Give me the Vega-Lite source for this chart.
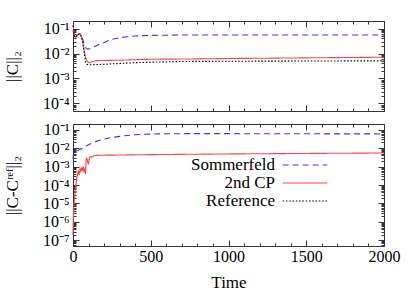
{
  "$schema": "https://vega.github.io/schema/vega-lite/v6.json",
  "padding": {"left": 2, "top": 20, "right": 5, "bottom": 5},
  "config": {
    "font": "Liberation Serif",
    "view": {"stroke": "#333", "strokeWidth": 1},
    "axis": {"grid": false, "domain": false, "tickColor": "#333", "tickWidth": 1, "labelFont": "Liberation Serif", "labelFontSize": 16, "labelColor": "#000", "titleFont": "Liberation Serif", "titleFontSize": 17, "titleFontWeight": "normal", "titleColor": "#000"},
    "line": {"clip": true}
  },
  "datasets": {
    "top": [
      {"t": 0, "v": 0.085, "s": "Sommerfeld"}, {"t": 5, "v": 0.06, "s": "Sommerfeld"}, {"t": 10, "v": 0.045, "s": "Sommerfeld"}, {"t": 15, "v": 0.04, "s": "Sommerfeld"}, {"t": 20, "v": 0.045, "s": "Sommerfeld"}, {"t": 30, "v": 0.055, "s": "Sommerfeld"}, {"t": 40, "v": 0.06, "s": "Sommerfeld"}, {"t": 48, "v": 0.062, "s": "Sommerfeld"}, {"t": 55, "v": 0.05, "s": "Sommerfeld"}, {"t": 65, "v": 0.033, "s": "Sommerfeld"}, {"t": 75, "v": 0.021, "s": "Sommerfeld"}, {"t": 85, "v": 0.016, "s": "Sommerfeld"}, {"t": 95, "v": 0.015, "s": "Sommerfeld"}, {"t": 110, "v": 0.016, "s": "Sommerfeld"}, {"t": 135, "v": 0.018, "s": "Sommerfeld"}, {"t": 160, "v": 0.022, "s": "Sommerfeld"}, {"t": 190, "v": 0.026, "s": "Sommerfeld"}, {"t": 230, "v": 0.033, "s": "Sommerfeld"}, {"t": 260, "v": 0.038, "s": "Sommerfeld"}, {"t": 300, "v": 0.043, "s": "Sommerfeld"}, {"t": 350, "v": 0.047, "s": "Sommerfeld"}, {"t": 400, "v": 0.05, "s": "Sommerfeld"}, {"t": 450, "v": 0.052, "s": "Sommerfeld"}, {"t": 500, "v": 0.053, "s": "Sommerfeld"}, {"t": 600, "v": 0.054, "s": "Sommerfeld"}, {"t": 700, "v": 0.055, "s": "Sommerfeld"}, {"t": 1000, "v": 0.055, "s": "Sommerfeld"}, {"t": 1500, "v": 0.055, "s": "Sommerfeld"}, {"t": 2000, "v": 0.055, "s": "Sommerfeld"},
      {"t": 0, "v": 0.14, "s": "2nd CP"}, {"t": 3, "v": 0.11, "s": "2nd CP"}, {"t": 6, "v": 0.07, "s": "2nd CP"}, {"t": 10, "v": 0.05, "s": "2nd CP"}, {"t": 15, "v": 0.045, "s": "2nd CP"}, {"t": 20, "v": 0.05, "s": "2nd CP"}, {"t": 30, "v": 0.058, "s": "2nd CP"}, {"t": 40, "v": 0.062, "s": "2nd CP"}, {"t": 48, "v": 0.06, "s": "2nd CP"}, {"t": 55, "v": 0.045, "s": "2nd CP"}, {"t": 62, "v": 0.03, "s": "2nd CP"}, {"t": 68, "v": 0.018, "s": "2nd CP"}, {"t": 75, "v": 0.01, "s": "2nd CP"}, {"t": 82, "v": 0.0065, "s": "2nd CP"}, {"t": 90, "v": 0.005, "s": "2nd CP"}, {"t": 100, "v": 0.0044, "s": "2nd CP"}, {"t": 108, "v": 0.0042, "s": "2nd CP"}, {"t": 120, "v": 0.0047, "s": "2nd CP"}, {"t": 150, "v": 0.0052, "s": "2nd CP"}, {"t": 300, "v": 0.0054, "s": "2nd CP"}, {"t": 500, "v": 0.0059, "s": "2nd CP"}, {"t": 700, "v": 0.006, "s": "2nd CP"}, {"t": 1000, "v": 0.0063, "s": "2nd CP"}, {"t": 1500, "v": 0.0067, "s": "2nd CP"}, {"t": 2000, "v": 0.0071, "s": "2nd CP"},
      {"t": 0, "v": 0.13, "s": "Reference"}, {"t": 3, "v": 0.1, "s": "Reference"}, {"t": 6, "v": 0.065, "s": "Reference"}, {"t": 10, "v": 0.048, "s": "Reference"}, {"t": 15, "v": 0.043, "s": "Reference"}, {"t": 20, "v": 0.048, "s": "Reference"}, {"t": 30, "v": 0.056, "s": "Reference"}, {"t": 40, "v": 0.06, "s": "Reference"}, {"t": 48, "v": 0.058, "s": "Reference"}, {"t": 55, "v": 0.043, "s": "Reference"}, {"t": 62, "v": 0.028, "s": "Reference"}, {"t": 68, "v": 0.016, "s": "Reference"}, {"t": 75, "v": 0.008, "s": "Reference"}, {"t": 82, "v": 0.0045, "s": "Reference"}, {"t": 90, "v": 0.0037, "s": "Reference"}, {"t": 100, "v": 0.0035, "s": "Reference"}, {"t": 150, "v": 0.0036, "s": "Reference"}, {"t": 200, "v": 0.0037, "s": "Reference"}, {"t": 300, "v": 0.004, "s": "Reference"}, {"t": 400, "v": 0.0043, "s": "Reference"}, {"t": 500, "v": 0.0045, "s": "Reference"}, {"t": 700, "v": 0.0048, "s": "Reference"}, {"t": 1000, "v": 0.0049, "s": "Reference"}, {"t": 1500, "v": 0.005, "s": "Reference"}, {"t": 2000, "v": 0.0051, "s": "Reference"}
    ],
    "bottom": [
      {"t": 0, "v": 0.0025, "s": "Sommerfeld"}, {"t": 3, "v": 0.0045, "s": "Sommerfeld"}, {"t": 8, "v": 0.0055, "s": "Sommerfeld"}, {"t": 15, "v": 0.006, "s": "Sommerfeld"}, {"t": 25, "v": 0.0068, "s": "Sommerfeld"}, {"t": 35, "v": 0.0075, "s": "Sommerfeld"}, {"t": 45, "v": 0.0085, "s": "Sommerfeld"}, {"t": 55, "v": 0.009, "s": "Sommerfeld"}, {"t": 65, "v": 0.01, "s": "Sommerfeld"}, {"t": 75, "v": 0.0115, "s": "Sommerfeld"}, {"t": 85, "v": 0.013, "s": "Sommerfeld"}, {"t": 100, "v": 0.015, "s": "Sommerfeld"}, {"t": 125, "v": 0.019, "s": "Sommerfeld"}, {"t": 150, "v": 0.023, "s": "Sommerfeld"}, {"t": 180, "v": 0.028, "s": "Sommerfeld"}, {"t": 210, "v": 0.032, "s": "Sommerfeld"}, {"t": 250, "v": 0.037, "s": "Sommerfeld"}, {"t": 300, "v": 0.043, "s": "Sommerfeld"}, {"t": 350, "v": 0.048, "s": "Sommerfeld"}, {"t": 400, "v": 0.052, "s": "Sommerfeld"}, {"t": 450, "v": 0.055, "s": "Sommerfeld"}, {"t": 500, "v": 0.057, "s": "Sommerfeld"}, {"t": 600, "v": 0.059, "s": "Sommerfeld"}, {"t": 700, "v": 0.06, "s": "Sommerfeld"}, {"t": 1000, "v": 0.06, "s": "Sommerfeld"}, {"t": 1500, "v": 0.059, "s": "Sommerfeld"}, {"t": 2000, "v": 0.058, "s": "Sommerfeld"},
      {"t": 0, "v": 2e-7, "s": "2nd CP"}, {"t": 2, "v": 1.5e-6, "s": "2nd CP"}, {"t": 5, "v": 6e-6, "s": "2nd CP"}, {"t": 10, "v": 2e-5, "s": "2nd CP"}, {"t": 15, "v": 6e-5, "s": "2nd CP"}, {"t": 20, "v": 1.2e-4, "s": "2nd CP"}, {"t": 25, "v": 2.5e-4, "s": "2nd CP"}, {"t": 30, "v": 4e-4, "s": "2nd CP"}, {"t": 35, "v": 6e-4, "s": "2nd CP"}, {"t": 40, "v": 3.5e-4, "s": "2nd CP"}, {"t": 45, "v": 8e-4, "s": "2nd CP"}, {"t": 50, "v": 5e-4, "s": "2nd CP"}, {"t": 55, "v": 9e-4, "s": "2nd CP"}, {"t": 60, "v": 6e-4, "s": "2nd CP"}, {"t": 65, "v": 1e-3, "s": "2nd CP"}, {"t": 70, "v": 5e-4, "s": "2nd CP"}, {"t": 75, "v": 8e-4, "s": "2nd CP"}, {"t": 80, "v": 4e-4, "s": "2nd CP"}, {"t": 85, "v": 2.5e-3, "s": "2nd CP"}, {"t": 90, "v": 2.8e-3, "s": "2nd CP"}, {"t": 95, "v": 1.6e-3, "s": "2nd CP"}, {"t": 100, "v": 1.4e-3, "s": "2nd CP"}, {"t": 105, "v": 2.8e-3, "s": "2nd CP"}, {"t": 110, "v": 3.4e-3, "s": "2nd CP"}, {"t": 120, "v": 3.2e-3, "s": "2nd CP"}, {"t": 135, "v": 3.8e-3, "s": "2nd CP"}, {"t": 150, "v": 4e-3, "s": "2nd CP"}, {"t": 200, "v": 4.1e-3, "s": "2nd CP"}, {"t": 300, "v": 4.2e-3, "s": "2nd CP"}, {"t": 500, "v": 4.4e-3, "s": "2nd CP"}, {"t": 1000, "v": 4.8e-3, "s": "2nd CP"}, {"t": 1500, "v": 5.1e-3, "s": "2nd CP"}, {"t": 2000, "v": 5.4e-3, "s": "2nd CP"}
    ]
  },
  "vconcat": [
    {
      "width": 311, "height": 90,
      "data": {"name": "top"},
      "layer": [
        {
          "mark": {"type": "line", "strokeWidth": 1.1},
          "encoding": {
            "x": {"field": "t", "type": "quantitative", "scale": {"domain": [0, 2000], "nice": false, "zero": false}, "axis": {"orient": "bottom", "values": [0, 500, 1000, 1500, 2000], "labels": false, "tickSize": -6, "title": null}},
            "y": {"field": "v", "type": "quantitative", "scale": {"type": "log", "domain": [5e-5, 0.2], "nice": false}, "axis": {"orient": "left", "values": [0.1, 0.01, 0.001, 0.0001], "labelExpr": "'10⁻' + ['⁰','¹','²','³','⁴','⁵','⁶','⁷','⁸'][round(-log(datum.value)/LN10)]", "labelFont": "Liberation Serif", "labelFontSize": 16, "tickSize": -6, "labelPadding": 10, "title": "||C||₂", "titleFont": "Liberation Serif", "titleFontSize": 17, "titlePadding": 21}},
            "color": {"field": "s", "type": "nominal", "scale": {"domain": ["Sommerfeld", "2nd CP", "Reference"], "range": ["#3535ff", "#ff4545", "#000000"]}, "legend": {"orient": "none", "legendX": 223, "legendY": 135, "title": null, "labelAlign": "right", "labelOffset": -39, "symbolType": "M-2.8,0H2.8", "symbolSize": 256, "symbolStrokeWidth": 1.2, "labelFont": "Liberation Serif", "labelFontSize": 17, "labelColor": "#000", "rowPadding": 1, "padding": 0}},
            "strokeDash": {"field": "s", "type": "nominal", "scale": {"domain": ["Sommerfeld", "2nd CP", "Reference"], "range": [[6, 4], [1, 0], [1.5, 1.8]]}, "legend": {"orient": "none", "legendX": 223, "legendY": 135, "title": null, "labelAlign": "right", "labelOffset": -39, "symbolType": "M-2.8,0H2.8", "symbolSize": 256, "symbolStrokeWidth": 1.2, "labelFont": "Liberation Serif", "labelFontSize": 17, "labelColor": "#000", "rowPadding": 1, "padding": 0}}
          }
        },
        {
          "mark": {"type": "line", "opacity": 0},
          "encoding": {
            "x": {"field": "t", "type": "quantitative", "scale": {"domain": [0, 2000], "nice": false, "zero": false}, "axis": {"orient": "top", "values": [0, 500, 1000, 1500, 2000], "labels": false, "tickSize": -6, "title": null}},
            "y": {"field": "v", "type": "quantitative", "scale": {"type": "log", "domain": [5e-5, 0.2], "nice": false}, "axis": {"orient": "right", "values": [0.1, 0.01, 0.001, 0.0001], "labels": false, "tickSize": -6, "title": null}}
          }
        },
        {
          "mark": {"type": "line", "opacity": 0},
          "encoding": {
            "x": {"field": "t", "type": "quantitative", "scale": {"domain": [0, 2000], "nice": false, "zero": false}, "axis": {"orient": "bottom", "values": [100, 200, 300, 400, 600, 700, 800, 900, 1100, 1200, 1300, 1400, 1600, 1700, 1800, 1900], "labels": false, "tickSize": -3, "title": null}},
            "y": {"field": "v", "type": "quantitative", "scale": {"type": "log", "domain": [5e-5, 0.2], "nice": false}, "axis": {"orient": "left", "values": [6e-5, 7e-5, 8e-5, 9e-5, 2e-4, 3e-4, 4e-4, 5e-4, 6e-4, 7e-4, 8e-4, 9e-4, 2e-3, 3e-3, 4e-3, 5e-3, 6e-3, 7e-3, 8e-3, 9e-3, 0.02, 0.03, 0.04, 0.05, 0.06, 0.07, 0.08, 0.09], "labels": false, "tickSize": -3, "title": null}}
          }
        },
        {
          "mark": {"type": "line", "opacity": 0},
          "encoding": {
            "x": {"field": "t", "type": "quantitative", "scale": {"domain": [0, 2000], "nice": false, "zero": false}, "axis": {"orient": "top", "values": [100, 200, 300, 400, 600, 700, 800, 900, 1100, 1200, 1300, 1400, 1600, 1700, 1800, 1900], "labels": false, "tickSize": -3, "title": null}},
            "y": {"field": "v", "type": "quantitative", "scale": {"type": "log", "domain": [5e-5, 0.2], "nice": false}, "axis": {"orient": "right", "values": [6e-5, 7e-5, 8e-5, 9e-5, 2e-4, 3e-4, 4e-4, 5e-4, 6e-4, 7e-4, 8e-4, 9e-4, 2e-3, 3e-3, 4e-3, 5e-3, 6e-3, 7e-3, 8e-3, 9e-3, 0.02, 0.03, 0.04, 0.05, 0.06, 0.07, 0.08, 0.09], "labels": false, "tickSize": -3, "title": null}}
          }
        }
      ],
      "resolve": {"axis": {"x": "independent", "y": "independent"}}
    },
    {
      "width": 311, "height": 122,
      "data": {"name": "bottom"},
      "layer": [
        {
          "mark": {"type": "line", "strokeWidth": 1.1},
          "encoding": {
            "x": {"field": "t", "type": "quantitative", "scale": {"domain": [0, 2000], "nice": false, "zero": false}, "axis": {"orient": "bottom", "values": [0, 500, 1000, 1500, 2000], "format": "d", "labelFont": "Liberation Serif", "labelFontSize": 16, "tickSize": -6, "labelPadding": 8, "labelFlush": false, "title": "Time", "titleFont": "Liberation Serif", "titleFontSize": 17, "titlePadding": 10}},
            "y": {"field": "v", "type": "quantitative", "scale": {"type": "log", "domain": [5e-8, 0.2], "nice": false}, "axis": {"orient": "left", "values": [0.1, 0.01, 0.001, 0.0001, 1e-5, 1e-6, 1e-7], "labelExpr": "'10⁻' + ['⁰','¹','²','³','⁴','⁵','⁶','⁷','⁸'][round(-log(datum.value)/LN10)]", "labelFont": "Liberation Serif", "labelFontSize": 16, "tickSize": -6, "labelPadding": 10, "title": "||C-Cʳᵉᶠ||₂", "titleFont": "Liberation Serif", "titleFontSize": 17, "titlePadding": 21}},
            "color": {"field": "s", "type": "nominal", "scale": {"domain": ["Sommerfeld", "2nd CP", "Reference"], "range": ["#3535ff", "#ff4545", "#000000"]}},
            "strokeDash": {"field": "s", "type": "nominal", "scale": {"domain": ["Sommerfeld", "2nd CP", "Reference"], "range": [[6, 4], [1, 0], [1.5, 1.8]]}}
          }
        },
        {
          "mark": {"type": "line", "opacity": 0},
          "encoding": {
            "x": {"field": "t", "type": "quantitative", "scale": {"domain": [0, 2000], "nice": false, "zero": false}, "axis": {"orient": "top", "values": [0, 500, 1000, 1500, 2000], "labels": false, "tickSize": -6, "title": null}},
            "y": {"field": "v", "type": "quantitative", "scale": {"type": "log", "domain": [5e-8, 0.2], "nice": false}, "axis": {"orient": "right", "values": [0.1, 0.01, 0.001, 0.0001, 1e-5, 1e-6, 1e-7], "labels": false, "tickSize": -6, "title": null}}
          }
        },
        {
          "mark": {"type": "line", "opacity": 0},
          "encoding": {
            "x": {"field": "t", "type": "quantitative", "scale": {"domain": [0, 2000], "nice": false, "zero": false}, "axis": {"orient": "bottom", "values": [100, 200, 300, 400, 600, 700, 800, 900, 1100, 1200, 1300, 1400, 1600, 1700, 1800, 1900], "labels": false, "tickSize": -3, "title": null}},
            "y": {"field": "v", "type": "quantitative", "scale": {"type": "log", "domain": [5e-8, 0.2], "nice": false}, "axis": {"orient": "left", "values": [6e-8, 7e-8, 8e-8, 9e-8, 2e-7, 3e-7, 4e-7, 5e-7, 6e-7, 7e-7, 8e-7, 9e-7, 2e-6, 3e-6, 4e-6, 5e-6, 6e-6, 7e-6, 8e-6, 9e-6, 2e-5, 3e-5, 4e-5, 5e-5, 6e-5, 7e-5, 8e-5, 9e-5, 2e-4, 3e-4, 4e-4, 5e-4, 6e-4, 7e-4, 8e-4, 9e-4, 2e-3, 3e-3, 4e-3, 5e-3, 6e-3, 7e-3, 8e-3, 9e-3, 0.02, 0.03, 0.04, 0.05, 0.06, 0.07, 0.08, 0.09], "labels": false, "tickSize": -3, "title": null}}
          }
        },
        {
          "mark": {"type": "line", "opacity": 0},
          "encoding": {
            "x": {"field": "t", "type": "quantitative", "scale": {"domain": [0, 2000], "nice": false, "zero": false}, "axis": {"orient": "top", "values": [100, 200, 300, 400, 600, 700, 800, 900, 1100, 1200, 1300, 1400, 1600, 1700, 1800, 1900], "labels": false, "tickSize": -3, "title": null}},
            "y": {"field": "v", "type": "quantitative", "scale": {"type": "log", "domain": [5e-8, 0.2], "nice": false}, "axis": {"orient": "right", "values": [6e-8, 7e-8, 8e-8, 9e-8, 2e-7, 3e-7, 4e-7, 5e-7, 6e-7, 7e-7, 8e-7, 9e-7, 2e-6, 3e-6, 4e-6, 5e-6, 6e-6, 7e-6, 8e-6, 9e-6, 2e-5, 3e-5, 4e-5, 5e-5, 6e-5, 7e-5, 8e-5, 9e-5, 2e-4, 3e-4, 4e-4, 5e-4, 6e-4, 7e-4, 8e-4, 9e-4, 2e-3, 3e-3, 4e-3, 5e-3, 6e-3, 7e-3, 8e-3, 9e-3, 0.02, 0.03, 0.04, 0.05, 0.06, 0.07, 0.08, 0.09], "labels": false, "tickSize": -3, "title": null}}
          }
        }
      ],
      "resolve": {"axis": {"x": "independent", "y": "independent"}}
    }
  ],
  "spacing": 9
}
